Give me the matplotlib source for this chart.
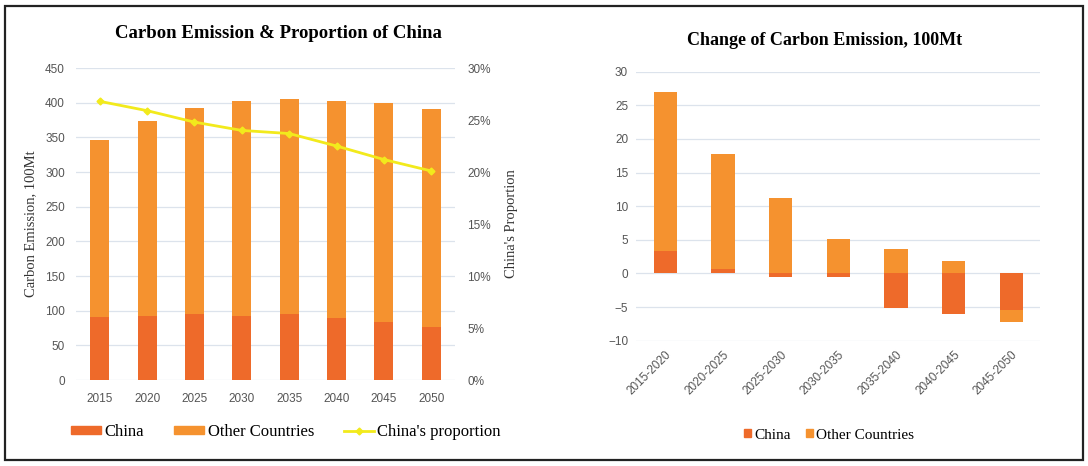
import numpy as np
import matplotlib as mpl
import matplotlib.pyplot as plt
from matplotlib.patches import Rectangle
from matplotlib.lines import Line2D
from matplotlib.ticker import PercentFormatter

mpl.rcParams['font.family'] = ['Liberation Sans', 'DejaVu Sans']

years = ['2015', '2020', '2025', '2030', '2035', '2040', '2045', '2050']
china = [91.6, 93, 95.5, 93, 95, 89, 83, 76]
total = [346, 374, 392, 402.6, 405, 402, 399, 391]
other = [t - c for t, c in zip(total, china)]
china_share = [26.8, 25.9, 24.8, 24.0, 23.7, 22.5, 21.2, 20.1]

periods = ['2015-2020', '2020-2025', '2025-2030', '2030-2035',
           '2035-2040', '2040-2045', '2045-2050']
d_china = [3.4, 0.7, -0.6, -0.5, -5.2, -6.05, -5.5]
d_other = [23.6, 17.0, 11.2, 5.05, 3.7, 1.8, -1.7]

c_china = '#EE6A2A'
c_other = '#F5922F'
c_line = '#F2EA1C'
c_grid = '#DCE3EC'
c_tick = '#555555'
serif = ['Liberation Serif', 'DejaVu Serif']

fig = plt.figure(figsize=(10.88, 4.66), dpi=100)
fig.patches.append(Rectangle((0.005, 0.012), 0.99, 0.976, transform=fig.transFigure,
                             fill=False, edgecolor='#222222', linewidth=1.6))

# left chart
ax = fig.add_axes([0.0699, 0.1845, 0.3483, 0.6695])
x = np.arange(len(years))
ax.bar(x, china, width=0.4, color=c_china, zorder=2, label='China')
ax.bar(x, other, width=0.4, bottom=china, color=c_other, zorder=2, label='Other Countries')
ax.set_ylim(0, 450)
ax.set_xlim(-0.5, len(years) - 0.5)
ax.set_yticks(range(0, 451, 50))
ax.set_xticks(x, years)
ax.grid(axis='y', color=c_grid, linewidth=0.9, zorder=0)
for s in ax.spines.values():
    s.set_visible(False)
ax.tick_params(axis='y', length=0, labelsize=8.5, colors=c_tick, pad=8)
ax.tick_params(axis='x', length=0, labelsize=8.5, colors=c_tick, pad=9)
ax.set_ylabel('Carbon Emission, 100Mt', family=serif, fontsize=10.5, color='#333333', labelpad=6)
fig.text(0.256, 0.928, 'Carbon Emission & Proportion of China', family=serif, fontsize=13.5,
         fontweight='bold', ha='center', va='center')

ax2 = ax.twinx()
ax2.plot(x, china_share, color=c_line, linewidth=2, marker='D', markersize=3.5, zorder=3)
ax2.set_ylim(0, 30)
ax2.set_yticks(range(0, 31, 5))
ax2.yaxis.set_major_formatter(PercentFormatter(decimals=0))
for s in ax2.spines.values():
    s.set_visible(False)
ax2.tick_params(length=0, labelsize=8.5, colors=c_tick, pad=9)
ax2.set_ylabel("China's Proportion", family=serif, fontsize=10.5, color='#333333',
               rotation=90, labelpad=10)

handles = [Rectangle((0, 0), 1, 1, color=c_china), Rectangle((0, 0), 1, 1, color=c_other),
           Line2D([], [], color=c_line, linewidth=2, marker='D', markersize=3.5)]
fig.legend(handles, ['China', 'Other Countries', "China's proportion"],
           loc='center', bbox_to_anchor=(0.263, 0.073), ncol=3, frameon=False,
           prop={'family': serif, 'size': 12}, handlelength=1.8, handleheight=0.4,
           handletextpad=0.2, columnspacing=1.8)

# right chart
bx = fig.add_axes([0.585, 0.269, 0.371, 0.577])
xp = np.arange(len(periods))
pos_base = np.zeros(len(periods))
neg_base = np.zeros(len(periods))
for vals, col, lab in [(d_china, c_china, 'China'), (d_other, c_other, 'Other Countries')]:
    vals = np.array(vals)
    bottoms = np.where(vals >= 0, pos_base, neg_base)
    bx.bar(xp, vals, width=0.4, bottom=bottoms, color=col, zorder=2, label=lab)
    pos_base = pos_base + np.where(vals >= 0, vals, 0)
    neg_base = neg_base + np.where(vals < 0, vals, 0)
bx.set_ylim(-10, 30)
bx.set_xlim(-0.5, len(periods) - 0.5)
bx.set_yticks(range(-10, 31, 5))
bx.set_xticks(xp, periods, rotation=45, ha='right', rotation_mode='anchor')
bx.grid(axis='y', color=c_grid, linewidth=0.9, zorder=0)
for s in bx.spines.values():
    s.set_visible(False)
bx.tick_params(length=0, labelsize=8.5, colors=c_tick, pad=6)
fig.text(0.758, 0.913, 'Change of Carbon Emission, 100Mt', family=serif, fontsize=13,
         fontweight='bold', ha='center', va='center')

fig.legend([Rectangle((0, 0), 1, 1, color=c_china), Rectangle((0, 0), 1, 1, color=c_other)],
           ['China', 'Other Countries'], loc='center', bbox_to_anchor=(0.762, 0.066),
           ncol=2, frameon=False, prop={'family': serif, 'size': 11},
           handlelength=0.45, handleheight=0.45, handletextpad=0.2, columnspacing=1.0)

fig.savefig('out.png', dpi=100)
